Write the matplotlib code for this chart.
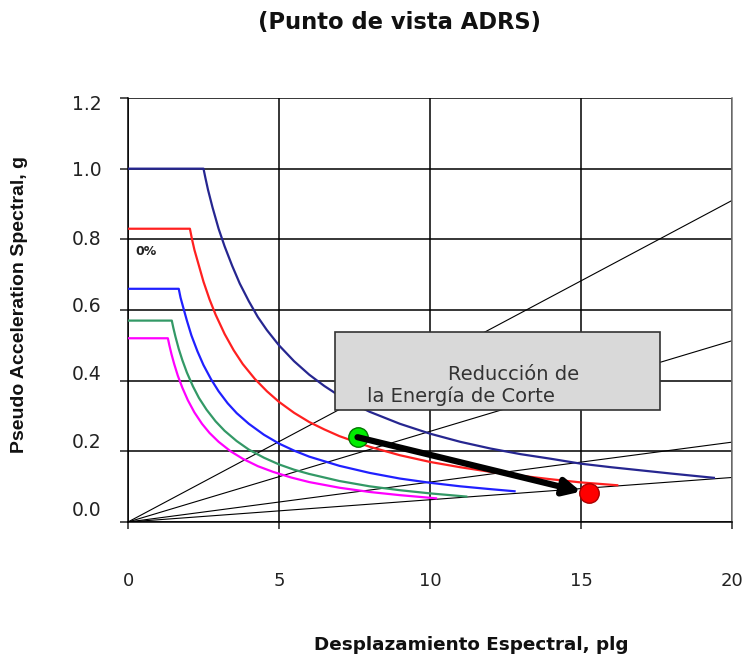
import matplotlib
matplotlib.use("Agg")
import matplotlib.pyplot as plt
from matplotlib.transforms import ScaledTranslation

plt.rcParams['font.family'] = ['Liberation Sans', 'DejaVu Sans']

# ---- data ----
navy_sd = [0, 2.5, 2.56, 2.65, 2.8, 3.0, 3.2, 3.45, 3.7, 4.0, 4.3, 4.6, 5, 5.5, 6, 6.5, 7, 7.5, 8, 9, 10,
           11, 12, 13, 14, 15, 16, 17, 18, 19.4]
navy_sa = [1.0, 1.0, 0.975, 0.94, 0.89, 0.83, 0.78, 0.725, 0.675, 0.625, 0.58, 0.543, 0.5, 0.455, 0.417,
           0.385, 0.357, 0.333, 0.312, 0.278, 0.25, 0.227, 0.208, 0.192, 0.179, 0.165, 0.155, 0.146,
           0.137, 0.125]

red_sd = [0, 2.05, 2.12, 2.2, 2.35, 2.5, 2.7, 2.9, 3.2, 3.5, 3.8, 4.2, 4.6, 5, 5.5, 6, 6.5, 7, 8, 9, 10,
          11, 12, 13, 14, 15, 16.2]
red_sa = [0.83, 0.83, 0.8, 0.77, 0.725, 0.68, 0.63, 0.587, 0.532, 0.486, 0.447, 0.405, 0.37, 0.34, 0.309,
          0.283, 0.262, 0.243, 0.213, 0.189, 0.17, 0.155, 0.142, 0.131, 0.121, 0.112, 0.104]

blue_sd = [0, 1.68, 1.74, 1.82, 1.95, 2.1, 2.3, 2.5, 2.75, 3.0, 3.3, 3.6, 4, 4.5, 5, 5.5, 6, 7, 8, 9, 10,
           11, 12, 12.8]
blue_sa = [0.66, 0.66, 0.635, 0.61, 0.57, 0.528, 0.483, 0.444, 0.404, 0.37, 0.336, 0.308, 0.278, 0.247,
           0.222, 0.202, 0.185, 0.159, 0.139, 0.123, 0.111, 0.101, 0.093, 0.087]

green_sd = [0, 1.45, 1.5, 1.57, 1.68, 1.8, 1.95, 2.15, 2.35, 2.6, 2.9, 3.2, 3.6, 4, 4.5, 5, 5.5, 6, 7, 8,
            9, 10, 11.2]
green_sa = [0.57, 0.57, 0.55, 0.525, 0.49, 0.458, 0.423, 0.384, 0.351, 0.318, 0.285, 0.258, 0.229, 0.205,
            0.182, 0.163, 0.148, 0.136, 0.116, 0.101, 0.09, 0.081, 0.072]

magenta_sd = [0, 1.32, 1.37, 1.44, 1.53, 1.65, 1.8, 1.98, 2.2, 2.45, 2.7, 3.0, 3.4, 3.8, 4.3, 4.8, 5.4,
              6, 7, 8, 9, 10.2]
magenta_sa = [0.52, 0.52, 0.5, 0.475, 0.447, 0.414, 0.38, 0.345, 0.31, 0.278, 0.252, 0.227, 0.2, 0.179,
              0.158, 0.142, 0.126, 0.113, 0.097, 0.085, 0.076, 0.067]

# constant-period lines: Sa reached at Sd = 20
period_line_sd = [0, 20]
period_line_end_sa = [0.91, 0.513, 0.226, 0.126]

start_point = (7.6, 0.24)      # green
end_point = (15.25, 0.082)     # red

x_ticks = [0, 5, 10, 15, 20]
y_ticks = [0.0, 0.2, 0.4, 0.6, 0.8, 1.0, 1.2]

# ---- figure ----
fig = plt.figure(figsize=(7.47, 6.59), dpi=100)
ax = fig.add_axes([128/747, 1 - 522/659, (732-128)/747, (522-98)/659])
ax.set_xlim(0, 20)
ax.set_ylim(0, 1.2)

ax.set_xticks(x_ticks)
ax.set_yticks(y_ticks)
ax.set_xticklabels([str(v) for v in x_ticks], fontsize=13, family=['DejaVu Sans'])
ax.set_yticklabels([f"{v:.1f}" for v in y_ticks], fontsize=13.5, family=['DejaVu Sans'])
ax.grid(True, color='black', linewidth=1.1)
ax.set_axisbelow(True)
for s in ax.spines.values():
    s.set_color('black')
    s.set_linewidth(1.1)
ax.spines['top'].set_visible(False)
ax.spines['right'].set_color('#777777')
ax.tick_params(axis='y', direction='out', length=6, width=1.1, pad=13, colors='#222222')
ax.tick_params(axis='x', direction='out', length=5, width=1.1, pad=31, colors='#222222')

# the reference's y labels are slightly shifted from their gridlines
label_shift_px = [14, 11, 8, 6, 2, 0, -4]
for lbl, sh in zip(ax.get_yticklabels(), label_shift_px):
    lbl.set_transform(lbl.get_transform() + ScaledTranslation(0, sh / 100, fig.dpi_scale_trans))

for end in period_line_end_sa:
    ax.plot(period_line_sd, [0, end], color='black', linewidth=0.8, zorder=2)

lw = 1.6
ax.plot(magenta_sd, magenta_sa, color='#ff00ff', linewidth=lw, zorder=3)
ax.plot(green_sd, green_sa, color='#339966', linewidth=lw, zorder=3)
ax.plot(blue_sd, blue_sa, color='#2020ff', linewidth=lw, zorder=3)
ax.plot(red_sd, red_sa, color='#ff2020', linewidth=lw, zorder=3)
ax.plot(navy_sd, navy_sa, color='#262690', linewidth=lw, zorder=3)

ax.text(0.25, 0.765, "0%", fontsize=9, fontweight='bold', ha='left', va='center',
        family=['DejaVu Sans'], color='#222222')

# annotation box
ax.add_patch(plt.Rectangle((6.85, 0.317), 17.6 - 6.85, 0.538 - 0.317, facecolor='#d9d9d9',
                           edgecolor='#333333', linewidth=1.2, zorder=4))
ax.text(12.78, 0.418, "Reducción de", fontsize=14, ha='center', va='center', color='#333333', zorder=5,
        family=['DejaVu Sans'])
ax.text(7.93, 0.357, "la Energía de Corte", fontsize=14, ha='left', va='center', color='#333333', zorder=5,
        family=['DejaVu Sans'])

# points and arrow
ax.plot(*start_point, marker='o', markersize=14, markerfacecolor='#00ee00', markeredgecolor='#007700',
        zorder=6, linestyle='none')
ax.plot(*end_point, marker='o', markersize=14, markerfacecolor='#ff0000', markeredgecolor='#aa0000',
        zorder=6, linestyle='none')
ax.annotate("", xy=(end_point[0] - 0.25, end_point[1] + 0.004), xytext=start_point,
            arrowprops=dict(arrowstyle='-|>,head_length=1.0,head_width=0.5', color='black', lw=4.5,
                            shrinkA=0, shrinkB=0), zorder=7)

fig.text(399/747, 1 - 22/659, "(Punto de vista ADRS)", fontsize=16.3, fontweight='bold', ha='center',
         va='center', family=['DejaVu Sans'], color='#111111')
fig.text(471/747, 1 - 645/659, "Desplazamiento Espectral, plg", fontsize=13.2, fontweight='bold',
         ha='center', va='center', family=['DejaVu Sans'], color='#111111')
fig.text(20/747, 1 - 305/659, "Pseudo Acceleration Spectral, g", fontsize=14, fontweight='bold',
         rotation=90, ha='center', va='center', color='#111111')

fig.savefig("out.png", dpi=100)
